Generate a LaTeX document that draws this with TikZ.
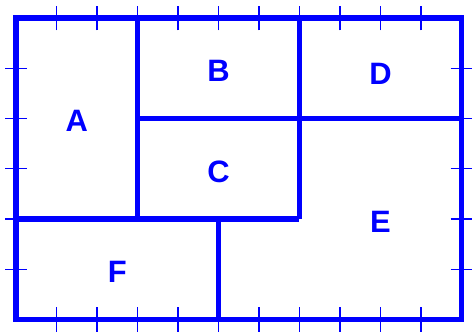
\documentclass[tikz,border=0pt]{standalone}
\usepackage{fontspec}
\setmainfont{Liberation Sans}
\usepackage{tikz}

\begin{document}
\begin{tikzpicture}[x=1.0125cm, y=1.25625cm,
    wall/.style={draw=blue, line width=3.9pt},
    tick/.style={draw=blue, line width=0.9pt},
    room/.style={text=blue, font=\fontsize{22}{24}\selectfont\bfseries, inner sep=0pt, yshift=-0.07cm}]
  \useasboundingbox (-0.395,-0.249) rectangle (11.31,6.358);
  % ticks
  \foreach \i in {1,...,10} {
    \draw[tick] (\i,6) ++(0,-0.31cm) -- ++(0,0.62cm);
    \draw[tick] (\i,0) ++(0,-0.31cm) -- ++(0,0.62cm);
  }
  \foreach \j in {1,...,5} {
    \draw[tick] (0,\j) ++(-0.27cm,0) -- ++(0.54cm,0);
    \draw[tick] (11,\j) ++(-0.27cm,0) -- ++(0.54cm,0);
  }
  % walls
  \draw[wall] (0,0) rectangle (11,6);
  \draw[wall] (3,6) -- (3,2);
  \draw[wall] (7,6) -- (7,2);
  \draw[wall] (3,4) -- (11,4);
  \draw[wall] (0,2) -- (7,2);
  \draw[wall] (5,2) -- (5,0);
  % rooms
  \node[room] (roomA) at (1.5,4) {A};
  \node[room] (roomB) at (5,5) {B};
  \node[room] (roomC) at (5,3) {C};
  \node[room] (roomD) at (9,4.95) {D};
  \node[room] (roomE) at (9,2) {E};
  \node[room] (roomF) at (2.5,1) {F};
\end{tikzpicture}
\end{document}
